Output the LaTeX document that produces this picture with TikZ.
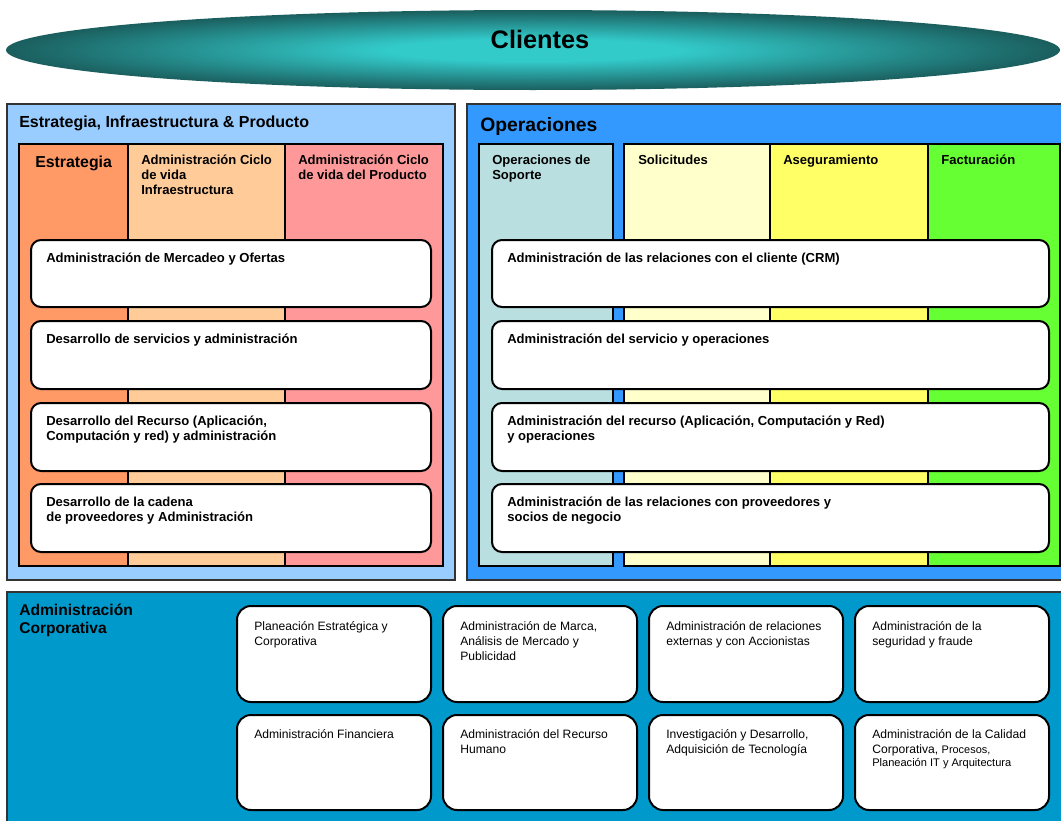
\documentclass[tikz,border=0pt]{standalone}
\usepackage{fontspec}
\setmainfont{Liberation Sans}
\definecolor{cin}{HTML}{33CACA}
\definecolor{cout}{HTML}{1B5E5E}
\definecolor{panelL}{HTML}{99CCFF}
\definecolor{strat}{HTML}{FF9966}
\definecolor{infra}{HTML}{FFCC99}
\definecolor{prod}{HTML}{FF9999}
\definecolor{panelR}{HTML}{3399FF}
\definecolor{sop}{HTML}{B9DFE1}
\definecolor{soli}{HTML}{FFFFCC}
\definecolor{aseg}{HTML}{FFFF66}
\definecolor{fact}{HTML}{66FF33}
\definecolor{panelB}{HTML}{0099CC}
\definecolor{edge}{HTML}{333333}
\newcommand\mltext[1]{\begin{tabular}[t]{@{}l@{}}#1\end{tabular}}
\pgfdeclareradialshading{clishade}{\pgfpoint{0bp}{0bp}}{color(0bp)=(cin); color(7bp)=(cin); color(25bp)=(cout); color(50bp)=(cout)}
\begin{document}
\begin{tikzpicture}[x=0.75pt,y=-0.75pt,
  panel/.style={draw=edge,line width=1.4pt},
  col/.style={draw=black,line width=1.5pt},
  wbox/.style={draw=black,fill=white,line width=1.5pt,rounded corners=7.5pt},
  cbox/.style={draw=black,fill=white,line width=1.5pt,rounded corners=10.5pt},
  txt/.style={anchor=base west,inner sep=0pt},
  bt/.style={txt,font=\fontsize{9.8}{11.25}\selectfont\bfseries},
  rt/.style={txt,font=\fontsize{9.1}{11.25}\selectfont}]
\useasboundingbox (0,0) rectangle (1061,821);
\clip (0,0) rectangle (1061,821);
% clientes
\path[shading=clishade] (533,50) ellipse [x radius=395.25pt, y radius=30pt];
\node[anchor=base,inner sep=0pt,font=\fontsize{19}{22}\selectfont\bfseries] (cli) at (540,48) {Clientes};
% left panel
\draw[panel,fill=panelL] (7,104) rectangle (455,580);
\draw[col,fill=strat] (19,144) rectangle (128,566);
\draw[col,fill=infra] (128,144) rectangle (285,566);
\draw[col,fill=prod] (285,144) rectangle (443,566);
\node[txt,font=\fontsize{12}{14}\selectfont\bfseries] (hl) at (19,127) {Estrategia, Infraestructura \& Producto};
\node[txt,font=\fontsize{11.9}{14}\selectfont\bfseries] (h1) at (35,167) {Estrategia};
\node[bt] (h2) at (141,164) {\mltext{Administración Ciclo\\de vida\\Infraestructura}};
\node[bt] (h3) at (298,164) {\mltext{Administración Ciclo\\de vida del Producto}};
\draw[wbox] (31,240) rectangle (431,307);
\draw[wbox] (31,321) rectangle (431,389);
\draw[wbox] (31,403) rectangle (431,471);
\draw[wbox] (31,484) rectangle (431,552);
\node[bt] (l1) at (46,262) {Administración de Mercadeo y Ofertas};
\node[bt] (l2) at (46,343) {Desarrollo de servicios y administración};
\node[bt] (l3) at (46,425) {\mltext{Desarrollo del Recurso (Aplicación,\\Computación y red) y administración}};
\node[bt] (l4) at (46,506) {\mltext{Desarrollo de la cadena\\de proveedores y Administración}};
% right panel
\draw[panel,fill=panelR] (467,104) rectangle (1080,580);
\draw[col,fill=sop] (479,144) rectangle (613,566);
\draw[col,fill=soli] (624,144) rectangle (770,566);
\draw[col,fill=aseg] (770,144) rectangle (928,566);
\draw[col,fill=fact] (928,144) rectangle (1060,566);
\node[txt,font=\fontsize{14.5}{17}\selectfont\bfseries] (hr) at (480,131) {Operaciones};
\node[bt] (o1) at (492,164) {\mltext{Operaciones de\\Soporte}};
\node[bt] (o2) at (638,164) {Solicitudes};
\node[bt] (o3) at (783,164) {Aseguramiento};
\node[bt] (o4) at (941,164) {Facturación};
\draw[wbox] (492,240) rectangle (1049,307);
\draw[wbox] (492,321) rectangle (1049,389);
\draw[wbox] (492,403) rectangle (1049,471);
\draw[wbox] (492,484) rectangle (1049,552);
\node[bt] (r1) at (507,262) {Administración de las relaciones con el cliente (CRM)};
\node[bt] (r2) at (507,343) {Administración del servicio y operaciones};
\node[bt] (r3) at (507,425) {\mltext{Administración del recurso (Aplicación, Computación y Red)\\y operaciones}};
\node[bt] (r4) at (507,506) {\mltext{Administración de las relaciones con proveedores y\\socios de negocio}};
% bottom panel
\draw[panel,fill=panelB] (7,592) rectangle (1080,840);
\node[txt,font=\fontsize{11.7}{13.5}\selectfont\bfseries] (hb) at (19,615) {\mltext{Administración\\Corporativa}};
\foreach \x in {237,443,649,855}{
  \draw[cbox] (\x,606) rectangle (\x+194,702);
  \draw[cbox] (\x,715) rectangle (\x+194,810);
}
\node[rt] (c1) at (254,630) {\mltext{Planeación Estratégica y\\Corporativa}};
\node[rt] (c2) at (460,630) {\mltext{Administración de Marca,\\Análisis de Mercado y\\Publicidad}};
\node[rt] (c3) at (666,630) {\mltext{Administración de relaciones\\externas y con Accionistas}};
\node[rt] (c4) at (872,630) {\mltext{Administración de la\\seguridad y fraude}};
\node[rt] (c5) at (254,738) {Administración Financiera};
\node[rt] (c6) at (460,738) {\mltext{Administración del Recurso\\Humano}};
\node[rt] (c7) at (666,738) {\mltext{Investigación y Desarrollo,\\Adquisición de Tecnología}};
\node[rt] (c8) at (872,738) {\mltext{Administración de la Calidad\\Corporativa, {\fontsize{8.2}{9.75}\selectfont Procesos,}\\[-1.5pt]{\fontsize{8.3}{9.75}\selectfont Planeación IT y Arquitectura}}};
\end{tikzpicture}
\end{document}
